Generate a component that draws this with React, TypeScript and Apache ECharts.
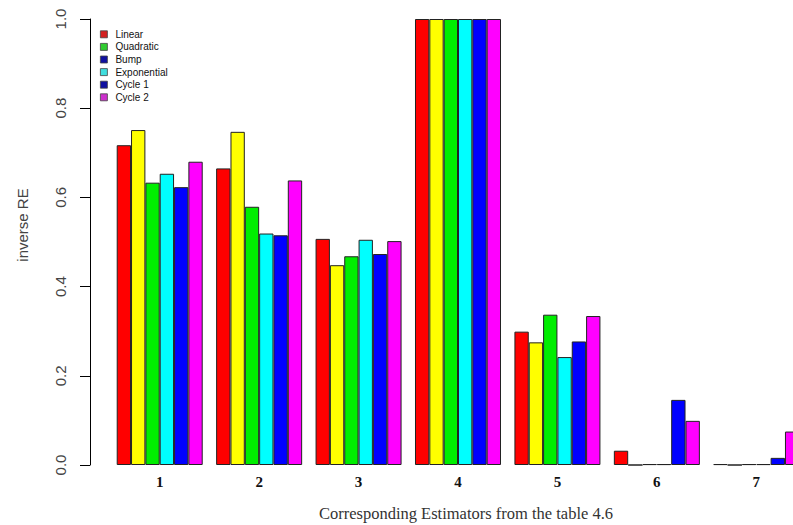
import React, { useEffect, useRef } from "react";
import * as echarts from "echarts";

const categories = ["1", "2", "3", "4", "5", "6", "7"];
const seriesNames = ["Linear", "Quadratic", "Bump", "Exponential", "Cycle 1", "Cycle 2"];
const barColors = ["#ff0000", "#ffff00", "#00ee00", "#00ffff", "#0000ff", "#ff00ff"];
const legendColors = ["#d42020", "#30cc30", "#1010a0", "#40dede", "#1010a0", "#cc30cc"];

const linearVals = [0.717, 0.665, 0.507, 1.0, 0.299, 0.032, 0.002];
const quadraticVals = [0.751, 0.747, 0.448, 1.0, 0.275, 0.0, 0.0];
const bumpVals = [0.633, 0.579, 0.468, 1.0, 0.337, 0.002, 0.002];
const exponentialVals = [0.653, 0.519, 0.505, 1.0, 0.242, 0.002, 0.002];
const cycle1Vals = [0.623, 0.515, 0.473, 1.0, 0.277, 0.146, 0.016];
const cycle2Vals = [0.68, 0.638, 0.502, 1.0, 0.334, 0.099, 0.075];

const allVals = [linearVals, quadraticVals, bumpVals, exponentialVals, cycle1Vals, cycle2Vals];

const yTicks = [0, 0.2, 0.4, 0.6, 0.8, 1.0];
const yLabel = "inverse RE";
const xLabel = "Corresponding Estimators from the table 4.6";

export default function App() {
  const ref = useRef<HTMLDivElement>(null);
  useEffect(() => {
    if (!ref.current) return;
    const chart = echarts.init(ref.current, null, { renderer: "svg" });
    chart.setOption({
      animation: false,
      backgroundColor: "#ffffff",
      grid: { left: 110, top: 19, width: 696, height: 446 },
      legend: {
        orient: "vertical",
        left: 100,
        top: 28,
        padding: 0,
        itemWidth: 7,
        itemHeight: 7,
        itemGap: 0,
        icon: "rect",
        selectedMode: false,
        textStyle: { fontSize: 10, lineHeight: 12.6, fontFamily: "Liberation Sans", color: "#111", padding: [0, 0, 0, 3] },
        data: seriesNames.map((n, i) => ({
          name: n,
          itemStyle: { color: legendColors[i], borderColor: "#444", borderWidth: 0.8 },
        })),
      },
      xAxis: {
        type: "category",
        data: categories,
        axisLine: { show: false },
        axisTick: { show: false },
        axisLabel: {
          fontFamily: "Liberation Serif",
          fontWeight: "bold",
          fontSize: 15,
          color: "#111",
          margin: 9,
        },
      },
      yAxis: {
        type: "value",
        min: 0,
        max: 1,
        interval: 0.2,
        offset: 20,
        axisLine: { show: true, lineStyle: { color: "#000", width: 1 } },
        axisTick: { show: true, length: 10, lineStyle: { color: "#000" } },
        splitLine: { show: false },
        axisLabel: {
          rotate: 90,
          margin: 22,
          fontSize: 15,
          fontFamily: "Liberation Sans",
          color: "#444",
          formatter: (v: number) => (yTicks.some((t) => Math.abs(t - v) < 1e-9) ? v.toFixed(1) : ""),
        },
      },
      series: seriesNames.map((n, i) => ({
        name: n,
        type: "bar",
        data: allVals[i],
        barGap: "0%",
        barCategoryGap: "13.5%",
        itemStyle: { color: barColors[i], borderColor: "#222", borderWidth: 1 },
      })),
      graphic: [
        {
          type: "text",
          x: 22,
          y: 225,
          rotation: Math.PI / 2,
          style: {
            text: yLabel,
            fontSize: 15,
            fontFamily: "Liberation Sans",
            fill: "#444",
            textAlign: "center",
            textVerticalAlign: "middle",
          },
        },
        {
          type: "text",
          x: 466,
          y: 513,
          style: {
            text: xLabel,
            fontSize: 16.5,
            fontFamily: "Liberation Serif",
            fill: "#333",
            textAlign: "center",
            textVerticalAlign: "middle",
          },
        },
      ],
    });
    return () => chart.dispose();
  }, []);
  return (
    <div style={{ position: "fixed", left: 0, top: 0, width: 793, height: 525, overflow: "hidden", background: "#fff" }}>
      <div ref={ref} style={{ position: "absolute", left: 0, top: 0, width: 820, height: 525 }} />
    </div>
  );
}
